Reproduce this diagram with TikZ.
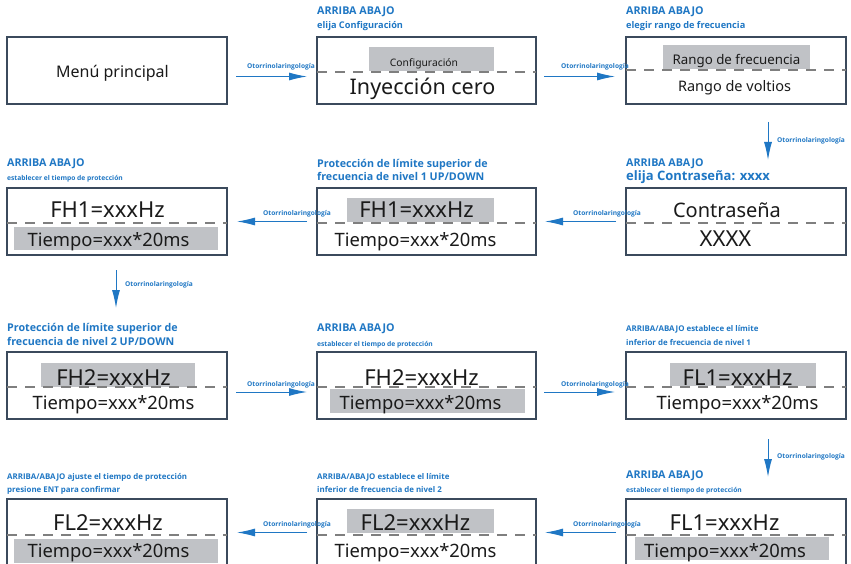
\documentclass[tikz,border=0pt]{standalone}
\usepackage{fontspec}
\setmainfont{Noto Sans}
\newfontfamily\lblfont{Open Sans}
\usetikzlibrary{arrows.meta}
\definecolor{bluec}{HTML}{1F77C4}
\definecolor{boxc}{HTML}{3B4A5C}
\definecolor{grayc}{HTML}{C0C2C6}
\definecolor{dashc}{HTML}{7F7F7F}
\definecolor{txtc}{HTML}{1A1A1A}
\newcommand{\fs}[1]{\fontsize{#1}{#1}\selectfont}
\tikzset{
  panel/.style={draw=boxc, line width=1.5pt, minimum width=220pt, minimum height=67pt, anchor=north west, inner sep=0pt, outer sep=0pt},
  dashln/.style={draw=dashc, line width=1.2pt, dash pattern=on 10pt off 8pt},
  big/.style={anchor=base, inner sep=0pt, text=txtc, font=\fs{22}},
  mid/.style={anchor=base, inner sep=0pt, text=txtc, font=\fs{18.4}},
  sml/.style={anchor=base, inner sep=0pt, text=txtc},
  ttl/.style={anchor=base west, inner sep=0pt, text=bluec, font=\lblfont\bfseries\fs{10.7}},
  sub/.style={anchor=base west, inner sep=0pt, text=bluec, font=\lblfont\bfseries\fs{6.7}},
  alab/.style={anchor=base west, inner sep=0pt, text=bluec, font=\lblfont\bfseries\fs{6.6}},
  arr/.style={draw=bluec, line width=1pt, -{Latex[length=18pt,width=8pt]}}
}
\begin{document}
\begin{tikzpicture}[x=1pt,y=-1pt]
\useasboundingbox[fill=white] (0,0) rectangle (851,564);
% ---------- gray highlights ----------
\fill[grayc] (369,47) rectangle (494,71);
\fill[grayc] (663,45) rectangle (810,69);
\fill[grayc] (14,227) rectangle (218,250);
\fill[grayc] (347,198) rectangle (494,222);
\fill[grayc] (41,363) rectangle (195,387);
\fill[grayc] (330,389) rectangle (525,413);
\fill[grayc] (670,363) rectangle (816,386);
\fill[grayc] (14,539) rectangle (218,563);
\fill[grayc] (347,509) rectangle (494,533);
\fill[grayc] (635,537) rectangle (829,560);
% ---------- panels ----------
\node[panel] (A)  at (7,37) {};
\node[panel, minimum width=219pt] (B)  at (317,37) {};
\node[panel] (C)  at (626,37) {};
\node[panel] (L2) at (7,188) {};
\node[panel, minimum width=219pt] (M2) at (317,188) {};
\node[panel] (R2) at (626,188) {};
\node[panel] (L3) at (7,352) {};
\node[panel, minimum width=219pt] (M3) at (317,352) {};
\node[panel] (R3) at (626,352) {};
\node[panel] (L4) at (7,499) {};
\node[panel, minimum width=219pt] (M4) at (317,499) {};
\node[panel] (R4) at (626,499) {};
% ---------- dashed separators ----------
\draw[dashln] (B.west |- 0,72) -- (B.east |- 0,72);
\draw[dashln] (C.west |- 0,70) -- (C.east |- 0,70);
\draw[dashln] (L2.west |- 0,223) -- (L2.east |- 0,223);
\draw[dashln] (M2.west |- 0,223) -- (M2.east |- 0,223);
\draw[dashln] (R2.west |- 0,223) -- (R2.east |- 0,223);
\draw[dashln] (L3.west |- 0,387) -- (L3.east |- 0,387);
\draw[dashln] (M3.west |- 0,387) -- (M3.east |- 0,387);
\draw[dashln] (R3.west |- 0,387) -- (R3.east |- 0,387);
\draw[dashln] (L4.west |- 0,535) -- (L4.east |- 0,535);
\draw[dashln] (M4.west |- 0,535) -- (M4.east |- 0,535);
\draw[dashln] (R4.west |- 0,535) -- (R4.east |- 0,535);
% ---------- panel texts ----------
\node[sml, font=\fs{16}] (tA) at (112.5,77.3) {Menú principal};
\node[sml, font=\fs{10.3}] (tB1) at (424,67) {Configuración};
\node[sml, font=\fs{21.5}] (tB2) at (422.5,95) {Inyección cero};
\node[sml, font=\fs{13.3}] (tC1) at (736.5,64.3) {Rango de frecuencia};
\node[sml, font=\fs{14.5}] (tC2) at (734.5,91.7) {Rango de voltios};
\node[big] (tL2a) at (107.5,217.7) {FH1=xxxHz};
\node[mid] (tL2b) at (108.5,246) {Tiempo=xxx*20ms};
\node[big] (tM2a) at (416.5,217.7) {FH1=xxxHz};
\node[mid] (tM2b) at (415.5,246) {Tiempo=xxx*20ms};
\node[sml, font=\fs{20}] (tR2a) at (727,217.7) {Contraseña};
\node[sml, font=\fs{22}] (tR2b) at (725.5,246) {XXXX};
\node[big] (tL3a) at (113.5,385) {FH2=xxxHz};
\node[mid] (tL3b) at (113.5,409.3) {Tiempo=xxx*20ms};
\node[big] (tM3a) at (421.5,385) {FH2=xxxHz};
\node[mid] (tM3b) at (420.5,409.3) {Tiempo=xxx*20ms};
\node[big] (tR3a) at (737.5,385) {FL1=xxxHz};
\node[mid] (tR3b) at (737.5,409.3) {Tiempo=xxx*20ms};
\node[big] (tL4a) at (108,530) {FL2=xxxHz};
\node[mid] (tL4b) at (108.5,557.7) {Tiempo=xxx*20ms};
\node[big] (tM4a) at (415.5,530) {FL2=xxxHz};
\node[mid] (tM4b) at (415.5,557.7) {Tiempo=xxx*20ms};
\node[big] (tR4a) at (724.5,530) {FL1=xxxHz};
\node[mid] (tR4b) at (725,557.7) {Tiempo=xxx*20ms};
% ---------- blue titles ----------
\node[ttl] (hB1) at (317,15) {ARRIBA ABAJO};
\node[ttl, font=\lblfont\bfseries\fs{9.2}] (hB2) at (317,28.3) {elija Configuración};
\node[ttl] (hC1) at (626,15) {ARRIBA ABAJO};
\node[ttl, font=\lblfont\bfseries\fs{9.2}] (hC2) at (626,28.3) {elegir rango de frecuencia};
\node[ttl] (hL21) at (7,166.7) {ARRIBA ABAJO};
\node[sub] (hL22) at (7,180.7) {establecer el tiempo de protección};
\node[ttl] (hM21) at (317,167.3) {Protección de límite superior de};
\node[ttl] (hM22) at (317,180.7) {frecuencia de nivel 1 UP/DOWN};
\node[ttl] (hR21) at (626,166.7) {ARRIBA ABAJO};
\node[ttl, font=\lblfont\bfseries\fs{13}] (hR22) at (626,181) {elija Contraseña: xxxx};
\node[ttl] (hL31) at (7,331) {Protección de límite superior de};
\node[ttl] (hL32) at (7,345.7) {frecuencia de nivel 2 UP/DOWN};
\node[ttl] (hM31) at (317,331) {ARRIBA ABAJO};
\node[sub] (hM32) at (317,346) {establecer el tiempo de protección};
\node[sub, font=\lblfont\bfseries\fs{7.9}] (hR31) at (626,331) {ARRIBA/ABAJO establece el límite};
\node[sub, font=\lblfont\bfseries\fs{7.9}] (hR32) at (626,345.7) {inferior de frecuencia de nivel 1};
\node[sub, font=\lblfont\bfseries\fs{7.9}] (hL41) at (7,479) {ARRIBA/ABAJO ajuste el tiempo de protección};
\node[sub, font=\lblfont\bfseries\fs{7.9}] (hL42) at (7,492.7) {presione ENT para confirmar};
\node[sub, font=\lblfont\bfseries\fs{7.9}] (hM41) at (317,479) {ARRIBA/ABAJO establece el límite};
\node[sub, font=\lblfont\bfseries\fs{7.9}] (hM42) at (317,492.7) {inferior de frecuencia de nivel 2};
\node[ttl] (hR41) at (626,478.3) {ARRIBA ABAJO};
\node[sub] (hR42) at (626,492.7) {establecer el tiempo de protección};
% ---------- connectors ----------
\draw[arr, shorten <=9pt, shorten >=10pt] ([yshift=-6pt]A.east) -- ([yshift=-6pt]B.west);
\draw[arr, shorten <=8pt, shorten >=11pt] ([yshift=-6pt]B.east) -- ([yshift=-6pt]C.west);
\draw[arr, shorten <=18pt, shorten >=28pt] ([xshift=32pt]C.south) -- ([xshift=32pt]R2.north);
\draw[arr, shorten <=10pt, shorten >=9pt] (R2.west) -- (M2.east);
\draw[arr, shorten <=10pt, shorten >=10pt] (M2.west) -- (L2.east);
\draw[arr, shorten <=15pt, shorten >=44pt] ([xshift=-1pt]L2.south) -- ([xshift=-1pt]L3.north);
\draw[arr, shorten <=9pt, shorten >=10pt] ([yshift=-6.5pt]L3.east) -- ([yshift=-6.5pt]M3.west);
\draw[arr, shorten <=8pt, shorten >=11pt] ([yshift=-6.5pt]M3.east) -- ([yshift=-6.5pt]R3.west);
\draw[arr, shorten <=20pt, shorten >=22pt] ([xshift=32pt]R3.south) -- ([xshift=32pt]R4.north);
\draw[arr, shorten <=10pt, shorten >=9pt] (R4.west) -- (M4.east);
\draw[arr, shorten <=10pt, shorten >=10pt] (M4.west) -- (L4.east);
% ---------- connector labels ----------
\node[alab] (a1) at (247,69) {Otorrinolaringología};
\node[alab] (a2) at (561,69) {Otorrinolaringología};
\node[alab] (a3) at (777,142.7) {Otorrinolaringología};
\node[alab] (a4) at (573,215.3) {Otorrinolaringología};
\node[alab] (a5) at (263,215.3) {Otorrinolaringología};
\node[alab] (a6) at (125,286.7) {Otorrinolaringología};
\node[alab] (a7) at (247,386) {Otorrinolaringología};
\node[alab] (a8) at (561,386) {Otorrinolaringología};
\node[alab] (a9) at (777,458) {Otorrinolaringología};
\node[alab] (a10) at (573,526.7) {Otorrinolaringología};
\node[alab] (a11) at (263,526.7) {Otorrinolaringología};
\end{tikzpicture}
\end{document}
